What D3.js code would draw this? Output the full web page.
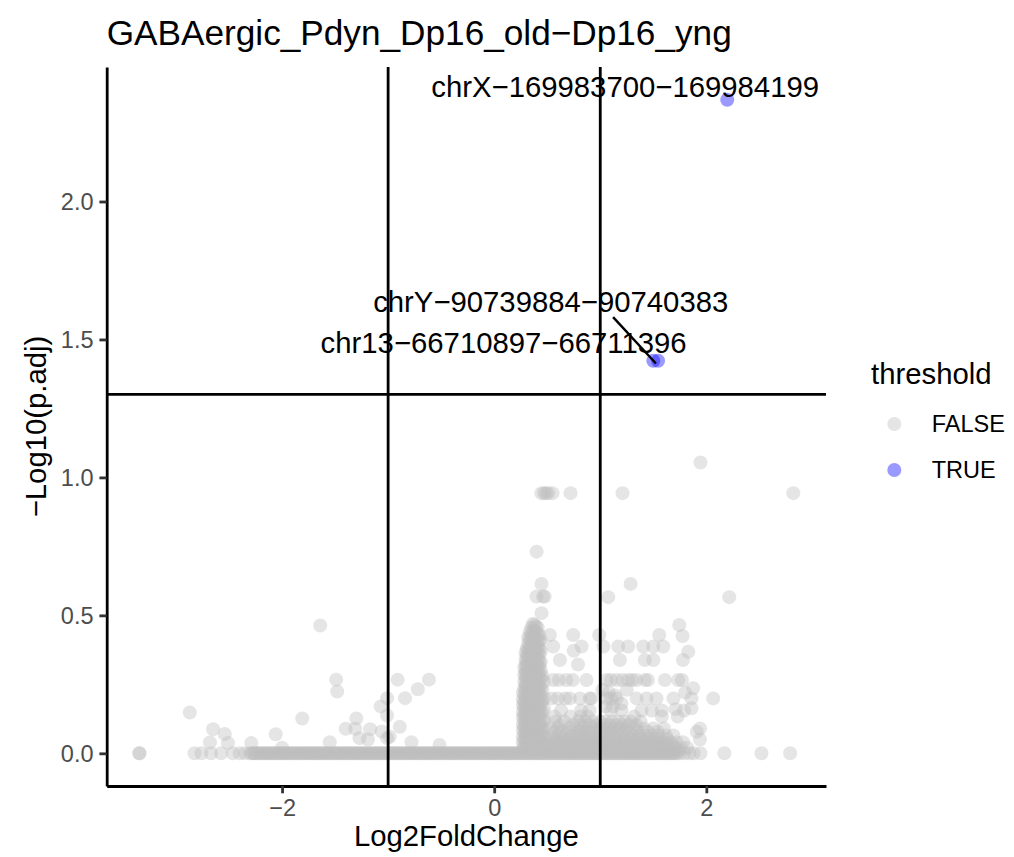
<!DOCTYPE html>
<html><head><meta charset="utf-8">
<script src="https://cdn.jsdelivr.net/npm/d3@7"></script>
<style>
html,body{margin:0;padding:0;background:#fff;}
svg{display:block;font-family:"Liberation Sans",Arial,Helvetica,sans-serif;}
</style>
</head><body>
<svg id="chart" width="1014" height="857"></svg>
<script>
// ---------------- data ----------------
const chartTitle = "GABAergic_Pdyn_Dp16_old\u2212Dp16_yng";
const xLabel = "Log2FoldChange";
const yLabel = "\u2212Log10(p.adj)";
const legendTitle = "threshold";
const legendLevels = ["FALSE", "TRUE"];
const xTicks = [-2, 0, 2];
const yTicks = [0, 0.5, 1.0, 1.5, 2.0];
const foldCut = [-1, 1];
const pCut = 1.30103;

// non-significant features with -log10(p.adj) = 0 (Log2FoldChange values)
const baselineLFC = [-3.345,-2.825,-2.76,-2.67,-2.575,-2.465,-2.40,-2.35,
 -2.30,-2.27,-2.24,-2.21,-2.18,-2.15,-2.12,-2.09,-2.06,-2.03,-2.00,-1.97,-1.94,-1.91,-1.88,-1.85,-1.82,-1.79,-1.76,-1.73,-1.70,-1.67,-1.64,-1.61,-1.58,-1.55,-1.52,-1.49,-1.46,-1.43,-1.40,-1.37,-1.34,-1.31,-1.28,-1.25,-1.22,-1.19,-1.16,-1.13,-1.10,-1.07,-1.04,-1.01,-0.98,-0.95,-0.92,-0.89,-0.86,-0.83,-0.80,-0.77,-0.74,-0.71,-0.68,-0.65,-0.62,-0.59,-0.56,-0.53,-0.50,-0.47,-0.44,-0.41,-0.38,-0.35,-0.32,-0.29,-0.26,-0.23,-0.20,-0.17,-0.14,-0.11,-0.08,-0.05,-0.02,0.01,0.04,0.07,0.10,0.13,0.16,0.19,0.22,0.25,0.28,0.31,0.34,0.37,0.40,0.43,0.46,0.49,0.52,0.55,0.58,0.61,0.64,0.67,0.70,0.73,0.76,0.79,0.82,0.85,0.88,0.91,0.94,0.97,1.00,1.03,1.06,1.09,1.12,1.15,1.18,1.21,1.24,1.27,1.30,1.33,1.36,1.39,1.42,1.45,1.48,1.51,1.54,1.57,1.60,1.63,1.66,1.69,1.72,
 1.75,1.79,1.84,1.88,1.945,2.17,2.52,2.79];
const baselineLFC2 = [-2.285,-2.255,-2.225,-2.195,-2.165,-2.135,-2.105,-2.075,-2.045,-2.015,-1.985,-1.955,-1.925,-1.895,-1.865,-1.835,-1.805,-1.775,-1.745,-1.715,-1.685,-1.655,-1.625,-1.595,-1.565,-1.535,-1.505,-1.475,-1.445,-1.415,-1.385,-1.355,-1.325,-1.295,-1.265,-1.235,-1.205,-1.175,-1.145,-1.115,-1.085,-1.055,-1.025,-0.995,-0.965,-0.935,-0.905,-0.875,-0.845,-0.815,-0.785,-0.755,-0.725,-0.695,-0.665,-0.635,-0.605,-0.575,-0.545,-0.515,-0.485,-0.455,-0.425,-0.395,-0.365,-0.335,-0.305,-0.275,-0.245,-0.215,-0.185,-0.155,-0.125,-0.095,-0.065,-0.035,-0.005,0.025,0.055,0.085,0.115,0.145,0.175,0.205,0.235,0.265,0.295,0.325,0.355,0.385,0.415,0.445,0.475,0.505,0.535,0.565,0.595,0.625,0.655,0.685,0.715,0.745,0.775,0.805,0.835,0.865,0.895,0.925,0.955,0.985,1.015,1.045,1.075,1.105,1.135,1.165,1.195,1.225,1.255,1.285,1.315,1.345,1.375,1.405,1.435,1.465,1.495,1.525,1.555,1.585,1.615,1.645,1.675,1.705];

// dense column of features near Log2FoldChange 0.3-0.45: [lfc, [ -log10 p values ]]
const spikeColumns = [
 [0.27,  [0.015,0.04,0.06,0.085,0.105,0.13,0.15,0.175,0.195,0.22]],
 [0.283, [0.03,0.05,0.075,0.095,0.12,0.14,0.165,0.185,0.21,0.235,0.26,0.285,0.31]],
 [0.295, [0.025,0.05,0.07,0.095,0.115,0.14,0.16,0.185,0.205,0.23,0.25,0.275,0.295,0.32,0.34,0.365]],
 [0.307, [0.02,0.045,0.065,0.09,0.11,0.135,0.155,0.18,0.20,0.225,0.245,0.27,0.29,0.315,0.335,0.355,0.38]],
 [0.32,  [0.015,0.04,0.06,0.085,0.105,0.13,0.15,0.175,0.195,0.22,0.24,0.265,0.285,0.31,0.33,0.355,0.375,0.40,0.42]],
 [0.335, [0.03,0.055,0.075,0.10,0.12,0.145,0.165,0.19,0.21,0.235,0.255,0.28,0.30,0.325,0.345,0.37,0.39,0.415,0.44]],
 [0.35,  [0.025,0.05,0.07,0.095,0.115,0.14,0.16,0.185,0.205,0.23,0.25,0.275,0.295,0.32,0.34,0.365,0.385,0.41,0.43,0.455]],
 [0.365, [0.02,0.045,0.065,0.09,0.11,0.135,0.155,0.18,0.20,0.225,0.245,0.27,0.29,0.315,0.335,0.355,0.38,0.40,0.425,0.445,0.47]],
 [0.38,  [0.015,0.04,0.06,0.085,0.105,0.13,0.15,0.175,0.195,0.22,0.24,0.265,0.285,0.31,0.33,0.355,0.375,0.40,0.42,0.445,0.465]],
 [0.395, [0.03,0.055,0.075,0.10,0.12,0.145,0.165,0.19,0.21,0.235,0.255,0.28,0.30,0.325,0.345,0.37,0.39,0.415,0.44,0.46]],
 [0.41,  [0.025,0.05,0.07,0.095,0.115,0.14,0.16,0.185,0.205,0.23,0.25,0.275,0.295,0.32,0.34,0.365,0.385,0.41,0.43,0.455]],
 [0.425, [0.02,0.045,0.065,0.09,0.11,0.135,0.155,0.18,0.20,0.225,0.245,0.27,0.29,0.315,0.335,0.36,0.38,0.405,0.43]],
 [0.44,  [0.015,0.04,0.065,0.09,0.12,0.15,0.18,0.21,0.24,0.27,0.30,0.33,0.37,0.41]],
 [0.455, [0.03,0.06,0.09,0.12,0.15,0.19,0.23,0.28]],
 [0.47,  [0.03,0.06,0.09,0.12,0.16,0.20,0.26]]
];

// dense low cloud to the right of the column: [ -log10 p, [lfc values] ]
const cloudRows = [
 [0.01,  [0.52,0.565,0.61,0.655,0.70,0.745,0.79,0.835,0.88,0.925,0.97,1.015,1.06,1.105,1.15,1.195,1.24,1.285,1.33,1.375,1.42,1.465,1.51,1.555,1.60,1.645,1.69,1.74]],
 [0.02,  [0.50,0.54,0.59,0.63,0.68,0.72,0.77,0.81,0.86,0.90,0.95,0.99,1.04,1.08,1.13,1.17,1.22,1.26,1.31,1.35,1.40,1.44,1.49,1.53,1.58,1.62,1.67,1.71,1.76,1.82]],
 [0.03,  [0.51,0.555,0.60,0.645,0.69,0.735,0.78,0.825,0.87,0.915,0.96,1.005,1.05,1.095,1.14,1.185,1.23,1.275,1.32,1.365,1.41,1.455,1.50,1.545,1.59,1.635,1.68]],
 [0.04,  [0.52,0.57,0.62,0.66,0.71,0.76,0.80,0.85,0.89,0.94,0.98,1.03,1.07,1.12,1.16,1.21,1.25,1.30,1.34,1.39,1.43,1.48,1.52,1.57,1.61,1.66,1.72,1.78]],
 [0.052, [0.54,0.59,0.64,0.69,0.74,0.79,0.84,0.88,0.93,0.98,1.03,1.08,1.13,1.18,1.23,1.28,1.33,1.38,1.44,1.50,1.56,1.63]],
 [0.065, [0.55,0.61,0.67,0.73,0.79,0.84,0.90,0.96,1.02,1.07,1.13,1.19,1.25,1.31,1.37,1.43,1.49,1.55,1.62,1.69]],
 [0.078, [0.57,0.64,0.72,0.80,0.86,0.92,0.99,1.05,1.10,1.16,1.22,1.28,1.36,1.45,1.54]],
 [0.09,  [0.53,0.60,0.70,0.77,0.83,0.89,0.95,1.01,1.06,1.12,1.18,1.24,1.33,1.41,1.50,1.60]],
 [0.103, [0.62,0.74,0.82,0.90,0.97,1.04,1.09,1.15,1.21,1.27,1.34]],
 [0.115, [0.58,0.66,0.79,0.86,0.93,1.00,1.05,1.11,1.17,1.23,1.29,1.38]]
];

// individually visible non-significant features: [lfc, -log10 p]
const scatterPts = [
 [-3.345,0],[-2.87,0.148],[-2.65,0.087],[-2.54,0.07],[-2.68,0.039],[-2.51,0.037],[-2.29,0.037],
 [-2.06,0.069],[-2.00,0.02],[-1.81,0.126],[-1.64,0.463],[-1.49,0.267],[-1.48,0.224],[-1.55,0.04],
 [-1.30,0.126],[-1.40,0.089],[-1.31,0.089],[-1.17,0.087],[-1.27,0.055],[-1.19,0.05],[-1.06,0.079],
 [-1.07,0.17],[-1.01,0.2],[-1.01,0.137],[-0.91,0.267],[-0.84,0.2],[-0.72,0.232],[-0.615,0.267],
 [-0.89,0.096],[-1.01,0.055],[-0.985,0.06],[-0.78,0.04],[-0.515,0.03],
 [1.945,1.054],
 [0.445,0.943],[0.47,0.943],[0.49,0.943],[0.51,0.943],[0.55,0.943],[0.72,0.943],[1.21,0.943],[2.82,0.943],
 [0.40,0.731],
 [0.446,0.614],[1.286,0.614],
 [0.398,0.568],[0.46,0.568],[0.477,0.568],[1.075,0.566],[2.216,0.566],
 [0.446,0.508],
 [1.745,0.465],
 [0.525,0.429],[0.745,0.429],[0.99,0.429],[1.556,0.429],[1.776,0.425],
 [0.556,0.387],[0.824,0.387],[1.03,0.387],[1.17,0.387],[1.263,0.387],[1.405,0.387],[1.50,0.387],[1.594,0.387],[0.75,0.372],[1.83,0.368],
 [0.62,0.338],[0.79,0.322],[1.185,0.338],[1.42,0.338],[1.50,0.338],[1.78,0.338],
 [0.556,0.266],[0.61,0.266],[0.68,0.266],[0.74,0.266],[0.87,0.266],[1.06,0.266],[1.10,0.266],[1.155,0.266],[1.21,0.266],[1.263,0.266],[1.30,0.266],[1.34,0.266],[1.42,0.266],[1.45,0.266],[1.61,0.266],[1.735,0.266],[1.77,0.266],
 [1.876,0.236],[1.80,0.22],[1.02,0.23],[1.08,0.22],[1.14,0.21],[1.25,0.23],
 [0.54,0.199],[0.60,0.199],[0.67,0.199],[0.713,0.199],[0.808,0.199],[0.90,0.199],[0.918,0.199],[1.06,0.199],[1.10,0.199],[1.155,0.199],[1.343,0.199],[1.437,0.199],[1.53,0.199],[1.69,0.199],[1.86,0.199],[2.065,0.199],
 [1.05,0.17],[1.12,0.17],[1.20,0.18],
 [1.10,0.155],[1.20,0.155],[1.39,0.155],[1.485,0.155],[1.58,0.155],[1.71,0.16],[1.79,0.155],[1.86,0.163],[0.63,0.155],[0.82,0.155],[0.90,0.155],
 [0.57,0.133],[0.72,0.133],[0.815,0.133],[0.88,0.133],[1.32,0.133],[1.58,0.133],[1.73,0.133],
 [1.94,0.09],[1.91,0.078],[1.94,0.05]
];

// significant features (threshold TRUE)
const sigPts = [[2.197,2.369],[1.50,1.423],[1.545,1.423]];

// repelled labels: text, label centre (lfc), label baseline (-log10 p), optional segment
const labelText = ["chrX\u2212169983700\u2212169984199","chrY\u221290739884\u221290740383","chr13\u221266710897\u221266711396"];
const labelX = [1.235, 0.533, 0.089];
const labelY = [2.378, 1.600, 1.452];
const labelSeg = [null, [[1.121,1.581],[1.525,1.413]], null];

// ---------------- build ----------------
const falsePts = [];
baselineLFC.forEach(v => falsePts.push({x:v, y:0}));
baselineLFC2.forEach(v => falsePts.push({x:v, y:0}));
spikeColumns.forEach(([cx, ys]) => ys.forEach(v => falsePts.push({x:cx, y:v})));
cloudRows.forEach(([ry, xs]) => xs.forEach(v => falsePts.push({x:v, y:ry})));
scatterPts.forEach(([a,b]) => falsePts.push({x:a, y:b}));
const truePts = sigPts.map(([a,b]) => ({x:a, y:b}));
const allPts = falsePts.concat(truePts);

const W = 1014, H = 857;
const panel = {left:106.7, right:826, top:67, bottom:786};
function expand(ext){ const s = ext[1]-ext[0]; return [ext[0]-0.05*s, ext[1]+0.05*s]; }
const x = d3.scaleLinear().domain(expand(d3.extent(allPts, d=>d.x))).range([panel.left, panel.right]);
const y = d3.scaleLinear().domain(expand(d3.extent(allPts, d=>d.y))).range([panel.bottom, panel.top]);

const svg = d3.select("#chart");
svg.append("rect").attr("width",W).attr("height",H).attr("fill","#fff");

const R = 7;
const colFalse = "#BEBEBE", colTrue = "#0000FF", alpha = 0.4;

const gp = svg.append("g");
gp.selectAll("circle.f").data(falsePts).join("circle").attr("class","f")
  .attr("cx", d=>x(d.x)).attr("cy", d=>y(d.y)).attr("r", R)
  .attr("fill", colFalse).attr("fill-opacity", alpha);
gp.selectAll("circle.t").data(truePts).join("circle").attr("class","t")
  .attr("cx", d=>x(d.x)).attr("cy", d=>y(d.y)).attr("r", R)
  .attr("fill", colTrue).attr("fill-opacity", alpha);

// threshold lines
const LW = 2.8;
svg.append("g").selectAll("line").data(foldCut).join("line")
  .attr("x1", d=>x(d)).attr("x2", d=>x(d)).attr("y1", panel.top).attr("y2", panel.bottom)
  .attr("stroke","#000").attr("stroke-width",LW);
svg.append("line").attr("x1",panel.left).attr("x2",panel.right)
  .attr("y1",y(pCut)).attr("y2",y(pCut)).attr("stroke","#000").attr("stroke-width",LW);

// labels
labelSeg.forEach(s => { if(!s) return;
  svg.append("line").attr("x1",x(s[0][0])).attr("y1",y(s[0][1])).attr("x2",x(s[1][0])).attr("y2",y(s[1][1]))
    .attr("stroke","#000").attr("stroke-width",2.4);
});
svg.append("g").selectAll("text").data(labelText).join("text")
  .attr("x",(d,i)=>x(labelX[i])).attr("y",(d,i)=>y(labelY[i]))
  .attr("text-anchor","middle").attr("font-size",29.3).attr("fill","#000").text(d=>d);

// axes
const fmt = d => (d < 0 ? "\u2212" + Math.abs(d) : String(d));
const gx = svg.append("g").attr("transform",`translate(0,${panel.bottom})`)
  .call(d3.axisBottom(x).tickValues(xTicks).tickFormat(fmt).tickSize(7.3).tickSizeOuter(0).tickPadding(5.9));
const gy = svg.append("g").attr("transform",`translate(${panel.left},0)`)
  .call(d3.axisLeft(y).tickValues(yTicks).tickFormat(d3.format(".1f")).tickSize(7.3).tickSizeOuter(0).tickPadding(5.9));
[gx, gy].forEach(g => {
  g.select(".domain").attr("stroke","#000").attr("stroke-width",LW);
  g.selectAll(".tick line").attr("stroke","#333").attr("stroke-width",LW);
  g.selectAll(".tick text").attr("fill","#4D4D4D").attr("font-size",23.5)
    .attr("font-family",'"Liberation Sans",Arial,Helvetica,sans-serif');
});
gy.selectAll(".tick text").attr("dy","0.36em");

// titles
svg.append("text").attr("x",panel.left).attr("y",45).attr("font-size",35.2).attr("fill","#000").text(chartTitle);
svg.append("text").attr("x",(panel.left+panel.right)/2).attr("y",846).attr("text-anchor","middle")
  .attr("font-size",29.3).attr("fill","#000").text(xLabel);
svg.append("text").attr("transform",`translate(45.5,${(panel.top+panel.bottom)/2}) rotate(-90)`)
  .attr("text-anchor","middle").attr("font-size",29.3).attr("fill","#000").text(yLabel);

// legend
const lg = svg.append("g");
lg.append("text").attr("x",871).attr("y",383.5).attr("font-size",29.3).attr("fill","#000").text(legendTitle);
const legCols = [colFalse, colTrue];
legendLevels.forEach((lv,i) => {
  const cy = 424 + i*46;
  lg.append("circle").attr("cx",894.3).attr("cy",cy).attr("r",R).attr("fill",legCols[i]).attr("fill-opacity",alpha);
  lg.append("text").attr("x",931.7).attr("y",cy+8.4).attr("font-size",23.5).attr("fill","#000").text(lv);
});
</script>
</body></html>
